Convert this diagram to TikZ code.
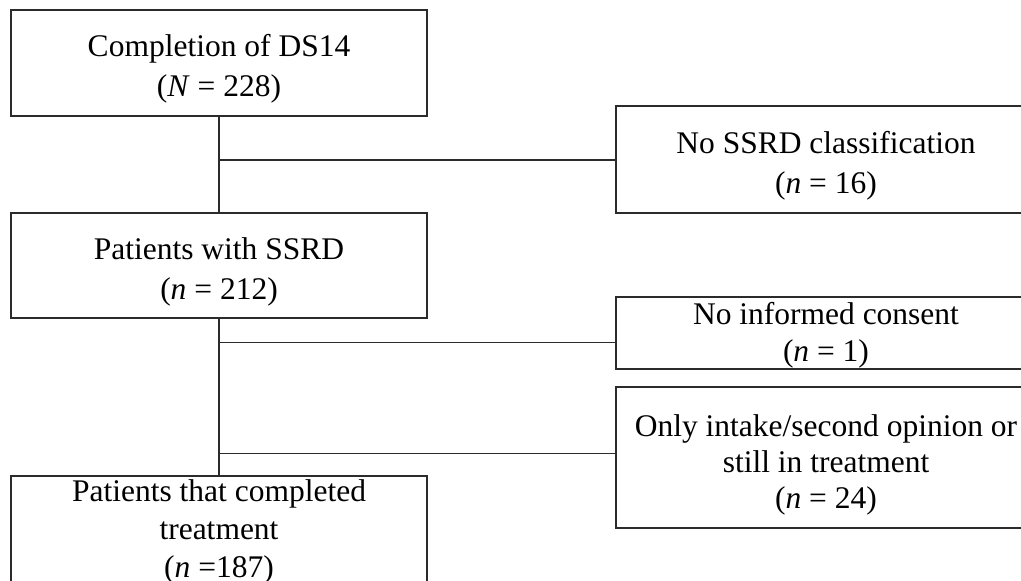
\documentclass[tikz,border=0pt]{standalone}
\usepackage{fontspec}
\setmainfont{Liberation Serif}
\usepackage{tikz}
\usetikzlibrary{positioning,calc}
\definecolor{flowInk}{HTML}{2B2B2B}
\tikzset{
    flowBox/.style={
        rectangle,
        draw=flowInk,
        line width=1.6pt,
        fill=white,
        inner sep=0pt
    },
    % Text sits a little below the middle of each box
    flowText/.style={
        align=center,
        yshift=-6pt,
        font=\fontsize{31.5}{40}\selectfont
    },
    % Sizes of the two columns
    mainBox/.style={flowBox, minimum width=416pt},
    sideBox/.style={flowBox, minimum width=420pt},
    flowLine/.style={draw=flowInk, line width=1.6pt}
}
\begin{document}
\begin{tikzpicture}[x=1pt, y=-1pt]
\useasboundingbox (0,0) rectangle (1021,581);

% Main column
\node[mainBox, minimum height=106pt, label={[flowText]center:Completion of DS14\\(\textit{N} = 228)}] (ds) at (219,63) {};
\node[mainBox, minimum height=105pt, label={[flowText]center:Patients with SSRD\\(\textit{n} = 212)}] (ssrd) at (219,265.5) {};
\node[mainBox, minimum height=108pt, label={[flowText, yshift=4pt, font=\fontsize{31.5}{38}\selectfont]center:Patients that completed\\treatment\\(\textit{n} =187)}] (done) at (219,530) {};

% Excluded patients
\node[sideBox, minimum height=107pt, label={[flowText]center:No SSRD classification\\(\textit{n} = 16)}] (noclass) at (826,159.5) {};
\node[sideBox, minimum height=72pt, label={[flowText, yshift=4pt, font=\fontsize{31.5}{37}\selectfont]center:No informed consent\\(\textit{n} = 1)}] (noconsent) at (826,333) {};
\node[sideBox, minimum height=141pt, label={[flowText, yshift=-1pt, font=\fontsize{31.5}{36}\selectfont]center:Only intake/second opinion or\\still in treatment\\(\textit{n} = 24)}] (intake) at (826,457.5) {};

% Branch points
\coordinate (split1) at ($(ds.south)!0.45!(ssrd.north)$);
\coordinate (split2) at ($(ssrd.south)!0.152!(done.north)$);
\coordinate (split3) at ($(ssrd.south)!0.86!(done.north)$);

\draw[flowLine] (ds.south) -- (ssrd.north);
\draw[flowLine] (ssrd.south) -- (done.north);
\draw[flowLine] (split1) -- (split1 -| noclass.west);
\draw[flowLine] (split2) -- (split2 -| noconsent.west);
\draw[flowLine] (split3) -- (split3 -| intake.west);
\end{tikzpicture}
\end{document}
